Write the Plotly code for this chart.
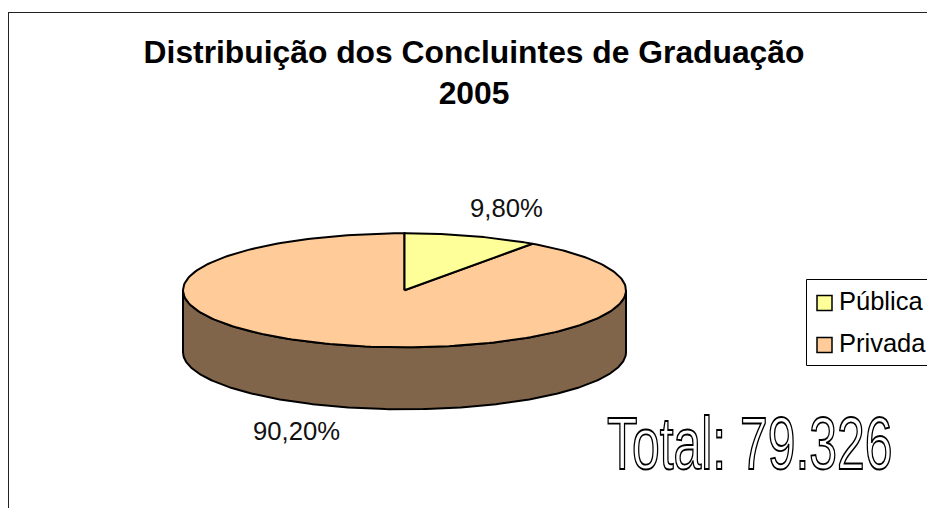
import numpy as np
import plotly.graph_objects as go

categories = ["Pública", "Privada"]
shares = [9.8, 90.2]
share_labels = ["9,80%", "90,20%"]
colors = ["#FFFF99", "#FFCC99"]
side_color = "#80654A"
title_lines = ["Distribuição dos Concluintes de Graduação", "2005"]
total_text = "Total: 79.326"

W, H = 927, 508
CX, CY, RX, RY, DEPTH = 404.5, 290.3, 221.5, 57, 62
FONT = "Liberation Sans, Arial, sans-serif"


def rim(a0, a1, n=240):
    t = np.radians(np.linspace(a0, a1, n))
    return CX + RX * np.sin(t), CY - RY * np.cos(t)


fig = go.Figure()

# Side wall: the lower half of the rim, dropped by DEPTH
xs, ys = rim(90, 270)
fig.add_trace(go.Scatter(
    x=np.r_[xs, xs[::-1], xs[0]], y=np.r_[ys, ys[::-1] + DEPTH, ys[0]],
    mode="lines", fill="toself", fillcolor=side_color,
    line=dict(color="black", width=2), hoverinfo="skip", showlegend=False))

# Top face sectors, clockwise from 12 o'clock; Privada is drawn first so the
# Pública outline stays on top
total = sum(shares)
spans = [360 * s / total for s in shares]
starts = [0.0, spans[0]]
for i in (1, 0):
    xs, ys = rim(starts[i], starts[i] + spans[i])
    fig.add_trace(go.Scatter(
        x=np.r_[CX, xs, CX], y=np.r_[CY, ys, CY], mode="lines", fill="toself",
        fillcolor=colors[i], line=dict(color="black", width=2), name=categories[i],
        showlegend=False))

# Legend
LEG_X0, LEG_Y0, LEG_Y1 = 806.5, 279.5, 365.5
swatch_y = [303, 345]
for name, color, y in zip(categories, colors, swatch_y):
    fig.add_trace(go.Scatter(
        x=[824.5], y=[y], mode="markers", hoverinfo="skip", showlegend=False,
        marker=dict(symbol="square", size=15, color=color,
                    line=dict(color="black", width=1.5))))
    fig.add_annotation(x=836.5, y=y - 2, text=name, showarrow=False, xanchor="left",
                       yanchor="middle", font=dict(size=25.5, color="black", family=FONT))

fig.add_annotation(x=506.5, y=208, text=share_labels[0], showarrow=False,
                   font=dict(size=25.7, color="#111111", family=FONT))
fig.add_annotation(x=296, y=431, text=share_labels[1], showarrow=False,
                   font=dict(size=25.7, color="#111111", family=FONT))
fig.add_annotation(x=750, y=443, text=total_text, showarrow=False,
                   font=dict(size=75, color="white", family=FONT))

frame = dict(type="line", line=dict(color="#222222", width=1), layer="below")
fig.update_layout(
    width=W, height=H, autosize=False,
    margin=dict(l=0, r=0, t=0, b=0),
    paper_bgcolor="white", plot_bgcolor="white", showlegend=False,
    title=dict(text="<br>".join(title_lines), x=474 / W, xanchor="center",
               y=1 - 62.5 / H, yanchor="middle",
               font=dict(size=31.8, color="black", family=FONT, weight="bold")),
    xaxis=dict(range=[0, W], visible=False, fixedrange=True),
    yaxis=dict(range=[H, 0], visible=False, fixedrange=True),
    shapes=[
        dict(frame, x0=8.5, x1=8.5, y0=12, y1=H),
        dict(frame, x0=8, x1=W, y0=12.5, y1=12.5),
        dict(type="rect", x0=LEG_X0, x1=W + 5, y0=LEG_Y0, y1=LEG_Y1,
             line=dict(color="black", width=1), fillcolor="white", layer="below"),
    ],
)

# No page margin; outlined, horizontally condensed lettering for the total
post = """
document.body.style.margin = '0';
var gd = document.querySelector('.js-plotly-plot');
gd.querySelectorAll('text.annotation-text').forEach(function (t) {
  if (t.textContent.indexOf('Total') === 0) {
    var b = t.getBBox(), cx = b.x + b.width / 2;
    t.style.fill = 'white';
    t.style.stroke = 'black';
    t.style.strokeWidth = '1.6px';
    t.style.vectorEffect = 'non-scaling-stroke';
    t.setAttribute('transform', 'translate(' + cx + ',0) scale(0.665,1) translate(' + (-cx) + ',0)');
  }
});
"""
fig.write_html("out.html", post_script=post, config=dict(displayModeBar=False))
